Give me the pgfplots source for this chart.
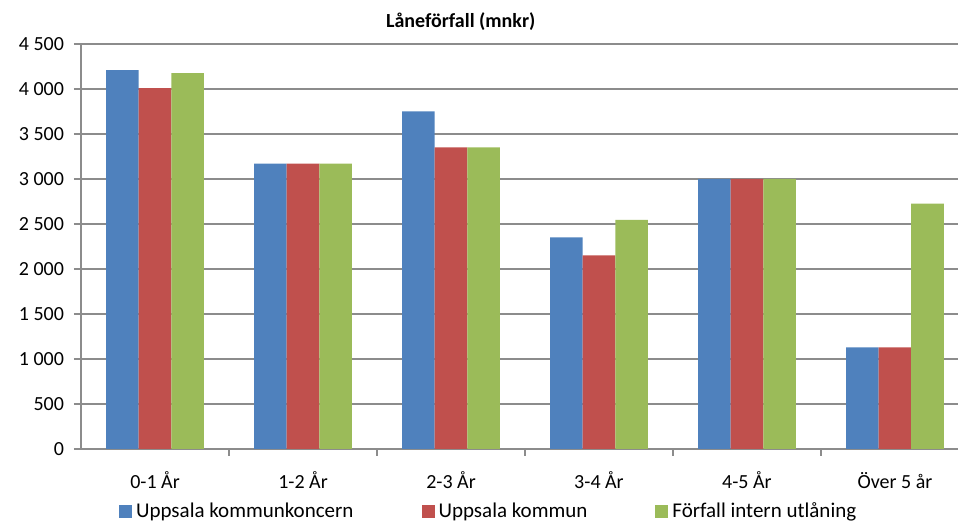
\documentclass[border=0pt]{standalone}
\usepackage{fontspec}
\setmainfont{Carlito}
\usepackage{pgfplots}
\pgfplotsset{compat=1.18}
\definecolor{cblue}{HTML}{4F81BD}
\definecolor{cred}{HTML}{C0504D}
\definecolor{cgreen}{HTML}{9BBB59}
\definecolor{cgrid}{HTML}{8C8C8C}
\pgfplotsset{sq/.style={legend image code/.code={\fill[##1] (0pt,-3.25pt) rectangle (6.5pt,3.25pt);}}}
\begin{document}
\begin{tikzpicture}
\begin{axis}[
  scale only axis, width=438.5pt, height=202.5pt,
  ybar=0pt, bar width=0.22,
  xmin=-0.5, xmax=5.426, ymin=0, ymax=4500,
  axis x line*=bottom, axis y line*=left,
  axis line style={draw=cgrid, line width=0.7pt},
  ymajorgrids, grid style={draw=cgrid, line width=0.7pt},
  tick align=outside, major tick length=3.5pt,
  tick style={draw=cgrid, line width=0.7pt},
  ytick={0,500,...,4500},
  yticklabels={0,500,1 000,1 500,2 000,2 500,3 000,3 500,4 000,4 500},
  yticklabel style={xshift=-1.5pt},
  xtick={0,...,5},
  xticklabels={0-1 År,1-2 År,2-3 År,3-4 År,4-5 År,Över 5 år},
  xticklabel style={yshift=-4.5pt},
  x tick style={draw=none},
  extra x ticks={0.5,1.5,2.5,3.5,4.5},
  extra x tick labels={},
  extra x tick style={x tick style={draw=cgrid}, grid=none},
  tick label style={font=\fontsize{10}{12}\selectfont},
  title={Låneförfall (mnkr)},
  title style={font=\bfseries\fontsize{10}{12}\selectfont, at={(axis description cs:0.433,1)}, anchor=center, yshift=5pt},
  legend columns=3,
  legend style={at={(axis description cs:0.466,0)}, anchor=center, yshift=-31.5pt,
    draw=none, fill=none, font=\fontsize{10.5}{12}\selectfont,
    /tikz/every even column/.append style={column sep=32pt}},
]
\addplot[fill=cblue, draw=none, sq] coordinates {(0,4210) (1,3170) (2,3750) (3,2350) (4,3000) (5,1130)};
\addplot[fill=cred, draw=none, sq] coordinates {(0,4010) (1,3170) (2,3350) (3,2150) (4,3000) (5,1130)};
\addplot[fill=cgreen, draw=none, sq] coordinates {(0,4175) (1,3170) (2,3350) (3,2545) (4,3000) (5,2725)};
\legend{Uppsala kommunkoncern, Uppsala kommun, Förfall intern utlåning}
\end{axis}
\pgfresetboundingbox
\useasboundingbox (-40.5pt,-36.5pt) rectangle (438.5pt,224.5pt);
\end{tikzpicture}
\end{document}
